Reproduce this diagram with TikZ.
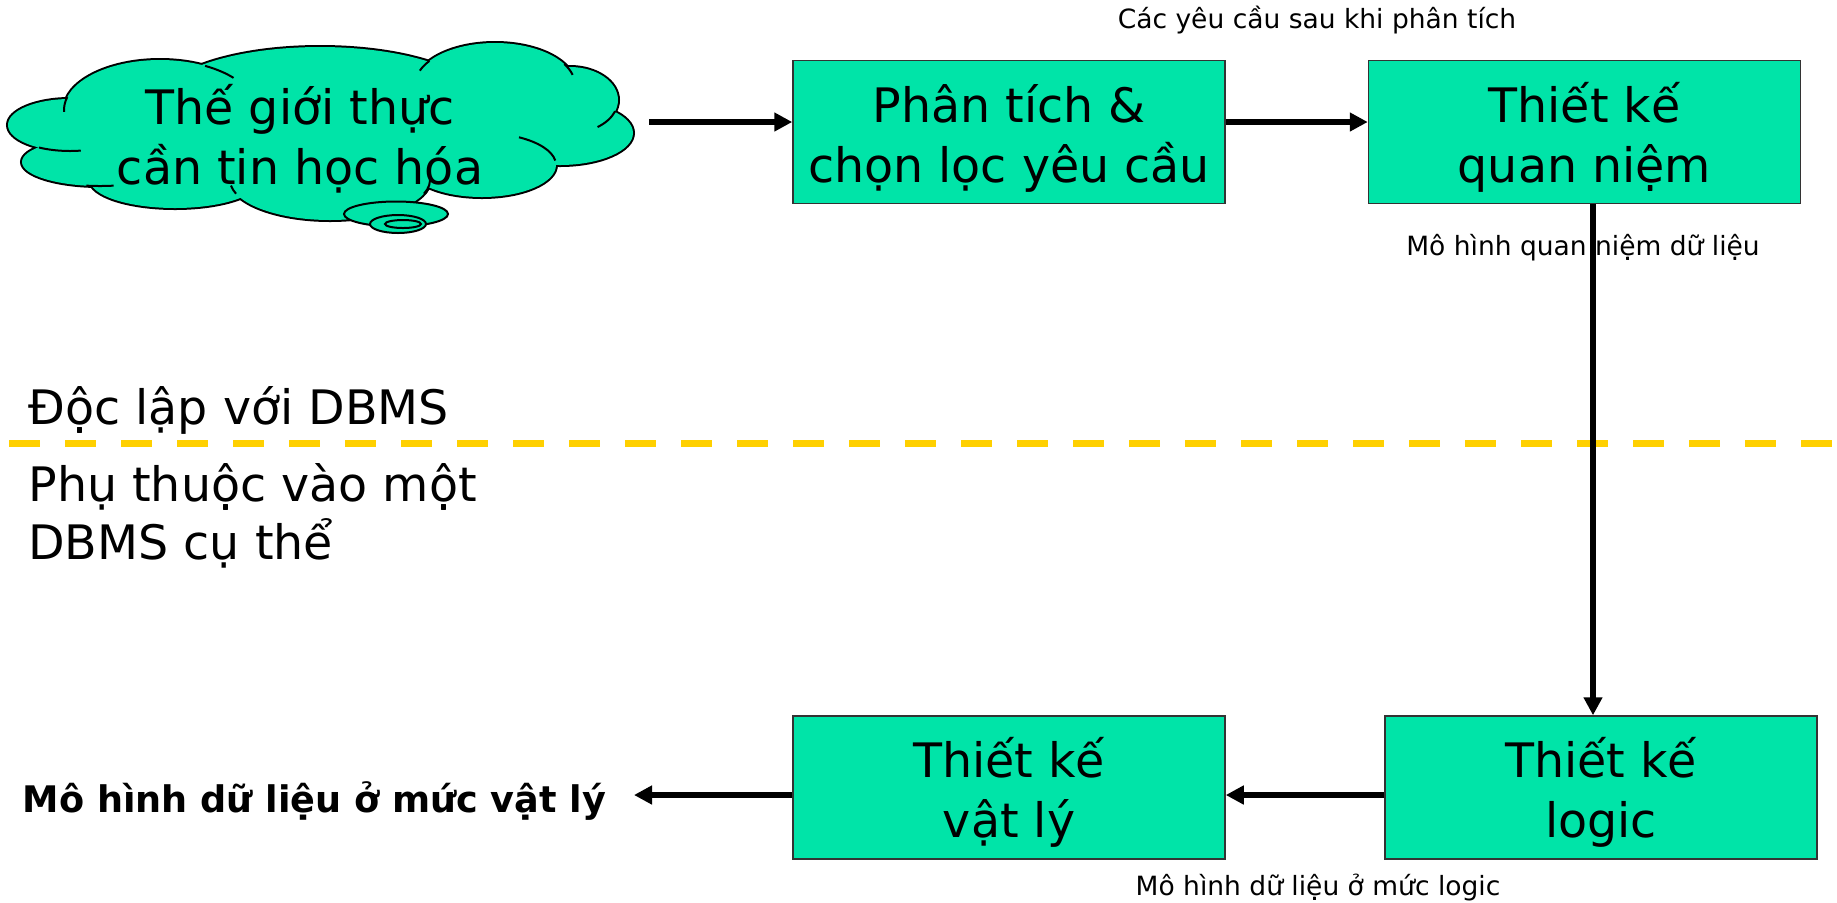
\documentclass[tikz,border=0pt]{standalone}
\usepackage{fontspec}
\setmainfont{DejaVu Sans}
\usepackage{xcolor}
\usetikzlibrary{arrows.meta}

\definecolor{mint}{RGB}{0,228,168}
\definecolor{gold}{RGB}{255,208,0}

\tikzset{
  box/.style={draw=black!80, line width=0.75pt, fill=mint, inner sep=0pt,
    minimum width=216pt, minimum height=71.5pt, align=center,
    font=\fontsize{23.75}{30}\selectfont},
  flow/.style={line width=2.6pt, -{Triangle[length=9pt,width=9pt]}},
  note/.style={inner sep=0pt, font=\fontsize{13.25}{16}\selectfont},
  side/.style={inner sep=0pt, align=left, font=\fontsize{23.75}{29}\selectfont},
  divider/.style={gold, line width=3.5pt, dash pattern=on 15.5pt off 12.5pt}
}

\begin{document}
\begin{tikzpicture}[x=0.5pt, y=-0.5pt]
                \useasboundingbox (0,0) rectangle (1837,902);

                % cloud: outline of the puffs first, then the fill on top
                \foreach \cx/\cy/\rx/\ry in {70/125/62/26, 100/162/78/24, 175/180/85/28,
                    160/110/96/50, 320/102/160/55, 495/85/80/42, 570/100/48/33,
                    560/133/73/32, 482/165/74/32, 330/180/100/40}
                    \draw[line width=2pt] (\cx,\cy) ellipse[x radius=\rx, y radius=\ry];
                \foreach \cx/\cy/\rx/\ry in {70/125/62/26, 100/162/78/24, 175/180/85/28,
                    160/110/96/50, 320/102/160/55, 495/85/80/42, 570/100/48/33,
                    560/133/73/32, 482/165/74/32, 330/180/100/40, 320/130/230/60}
                    \fill[mint] (\cx,\cy) ellipse[x radius=\rx, y radius=\ry];
                % small inner strokes of the puffs
                \foreach \cx/\cy/\rx/\ry/\a/\b in {70/125/62/26/120/80, 100/162/78/24/100/80,
                    160/110/96/50/-62/-40, 570/100/48/33/20/55, 482/165/74/32/-8/-60,
                    330/180/100/40/20/-5, 330/180/100/40/160/172, 160/110/96/50/195/178,
                    495/85/80/42/215/200, 495/85/80/42/-30/-14}
                    \draw[line width=1pt] (\cx,\cy) ++({\rx*cos(\a)},{\ry*sin(\a)})
                        arc[start angle=\a, end angle=\b, x radius=\rx, y radius=\ry];
                \filldraw[fill=mint, line width=1pt] (396,214) ellipse[x radius=52, y radius=12.5];
                \filldraw[fill=mint, line width=1pt] (398,224) ellipse[x radius=28, y radius=9];
                \filldraw[fill=mint, line width=1pt] (403,224) ellipse[x radius=18, y radius=4];

                \node[align=center, inner sep=0pt, font=\fontsize{23.75}{30}\selectfont]
                    (world) at (300,139) {Thế giới thực\\cần tin học hóa};

                % boxes; the text sits a little below the middle
                \node[box] (analysis) at (1009,132) {\rule{0pt}{25pt}Phân tích \&\\chọn lọc yêu cầu};
                \node[box] (concept) at (1584.5,132) {\rule{0pt}{25pt}Thiết kế\\quan niệm};
                \node[box] (logic) at (1601,787.5) {\rule{0pt}{25pt}Thiết kế\\logic};
                \node[box] (physical) at (1009,787.5) {\rule{0pt}{25pt}Thiết kế\\vật lý};

                \node[note, anchor=base] (afterreq) at (1317,28) {Các yêu cầu sau khi phân tích};
                \node[note, anchor=base] (conceptmodel) at (1583,255) {Mô hình quan niệm dữ liệu};
                \node[note, anchor=base] (logicmodel) at (1318,895) {Mô hình dữ liệu ở mức logic};
                \node[anchor=base east, inner sep=0pt, outer xsep=14pt,
                    font=\fontsize{18.3}{22}\selectfont\bfseries]
                    (result) at (634,812) {Mô hình dữ liệu ở mức vật lý};

                \node[side, anchor=base west] (indep) at (28,424) {Độc lập với DBMS};
                \node[side, anchor=west] (dep) at (28,516) {Phụ thuộc vào một\\DBMS cụ thể};

                \draw[divider] (9,443) -- (1834,443);

                \coordinate (worldout) at (649,122);
                \coordinate (rowtop) at (0,122);
                \coordinate (rowbot) at (0,795);
                \coordinate (drop) at (1593,0);

                \draw[flow] (worldout) -- (analysis.west |- rowtop);
                \draw[flow] (analysis.east |- rowtop) -- (concept.west |- rowtop);
                \draw[flow] (concept.south -| drop) -- (logic.north -| drop);
                \draw[flow] (logic.west |- rowbot) -- (physical.east |- rowbot);
                \draw[flow] (physical.west |- rowbot) -- (result.east |- rowbot);
\end{tikzpicture}
\end{document}
